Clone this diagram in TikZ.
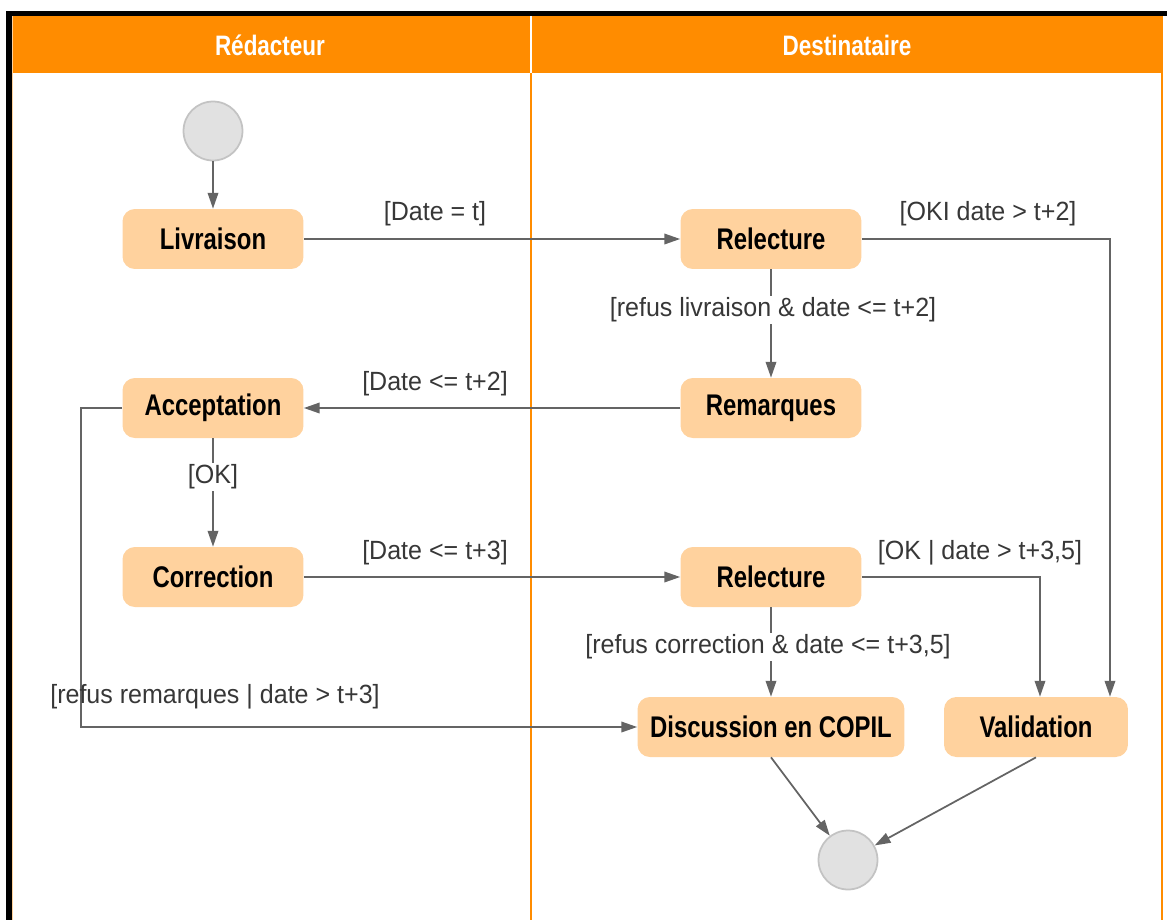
\documentclass[tikz,border=0pt]{standalone}
\usepackage{fontspec}
\setmainfont{Liberation Sans}
\newfontfamily\headfont[FakeStretch=0.8]{Liberation Sans}
\newfontfamily\boxfont[FakeStretch=0.8]{Liberation Sans}
\newfontfamily\labfont[FakeStretch=0.95]{Liberation Sans}
\usetikzlibrary{arrows.meta}
\definecolor{laneorange}{RGB}{255,140,0}
\definecolor{boxfill}{RGB}{255,210,158}
\definecolor{linegray}{RGB}{100,100,100}
\definecolor{labgray}{RGB}{55,55,55}
\definecolor{dotgray}{RGB}{225,225,225}
\definecolor{dotdraw}{RGB}{195,195,195}

\begin{document}
\begin{tikzpicture}[x=0.02cm, y=-0.02cm,
        activity/.style={rectangle, rounded corners=7pt, fill=boxfill, minimum width=3.62cm, minimum height=1.2cm, align=center, font=\boxfont\bfseries\fontsize{17}{20}\selectfont},
        dot/.style={circle, fill=dotgray, draw=dotdraw, line width=1pt, minimum size=1.18cm, inner sep=0pt},
        lanehead/.style={text=white, font=\headfont\bfseries\fontsize{16}{19}\selectfont},
        guard/.style={text=labgray, inner sep=1pt, font=\labfont\fontsize{15}{18}\selectfont},
        arrow/.style={-{Triangle[length=9pt, width=6pt]}, linegray, line width=1pt}
    ]
        \useasboundingbox (0,0) rectangle (1167,920);

        % Lanes
        \fill[laneorange] (11,15) rectangle (1162,73);
        \draw[white, line width=1pt] (531,15) -- (531,73);
        \draw[laneorange, line width=1pt] (531,73) -- (531,920);
        \draw[laneorange, line width=1pt] (1162,15) -- (1162,920);
        \draw[laneorange!40, line width=0.8pt] (12.5,15) -- (12.5,920);
        \draw[black, line width=3pt] (9,920) -- (9,13.5) -- (1167,13.5);
        \node[lanehead] (redacteur) at (270,45) {Rédacteur};
        \node[lanehead] (destinataire) at (847,45) {Destinataire};

        % Activities
        \node[dot] (start) at (213,131) {};
        \node[activity] (livraison) at (213,239) {Livraison};
        \node[activity] (relecture1) at (771,239) {Relecture};
        \node[activity] (remarques) at (771,408) {Remarques};
        \node[activity] (acceptation) at (213,408) {Acceptation};
        \node[activity] (correction) at (213,577) {Correction};
        \node[activity] (relecture2) at (771,577) {Relecture};
        \node[activity, minimum width=5.34cm] (copil) at (771,727) {Discussion en COPIL};
        \node[activity, minimum width=3.68cm] (validation) at (1036,727) {Validation};
        \node[dot] (stop) at (848,860) {};

        % Flows
        \draw[arrow] (start) -- (livraison);
        \draw[arrow] (livraison) -- (relecture1);
        \draw[arrow] (relecture1.east) -| ([xshift=1.48cm]validation.north);
        \draw[arrow] (relecture1) -- (remarques);
        \draw[arrow] (remarques) -- (acceptation);
        \draw[arrow] (acceptation) -- (correction);
        \draw[arrow] (acceptation.west) -- ++(-41,0) |- (copil.west);
        \draw[arrow] (correction) -- (relecture2);
        \draw[arrow] (relecture2.east) -| ([xshift=0.08cm]validation.north);
        \draw[arrow] (relecture2) -- (copil);
        \draw[arrow] (copil.south) -- (stop);
        \draw[arrow] (validation.south) -- (stop);

        % Guards
        \node[guard] (g1) at (435,214) {[Date = t]};
        \node[guard] (g2) at (988,214) {[OKI date > t+2]};
        \node[guard, fill=white] (g3) at (773,310) {[refus livraison \& date <= t+2]};
        \node[guard] (g4) at (435,384) {[Date <= t+2]};
        \node[guard, fill=white] (g5) at (213,477) {[OK]};
        \node[guard] (g6) at (435,553) {[Date <= t+3]};
        \node[guard] (g7) at (980,553) {[OK | date > t+3,5]};
        \node[guard, fill=white] (g8) at (768,647) {[refus correction \& date <= t+3,5]};
        \node[guard] (g9) at (215,697) {[refus remarques | date > t+3]};
    \end{tikzpicture}
\end{document}
